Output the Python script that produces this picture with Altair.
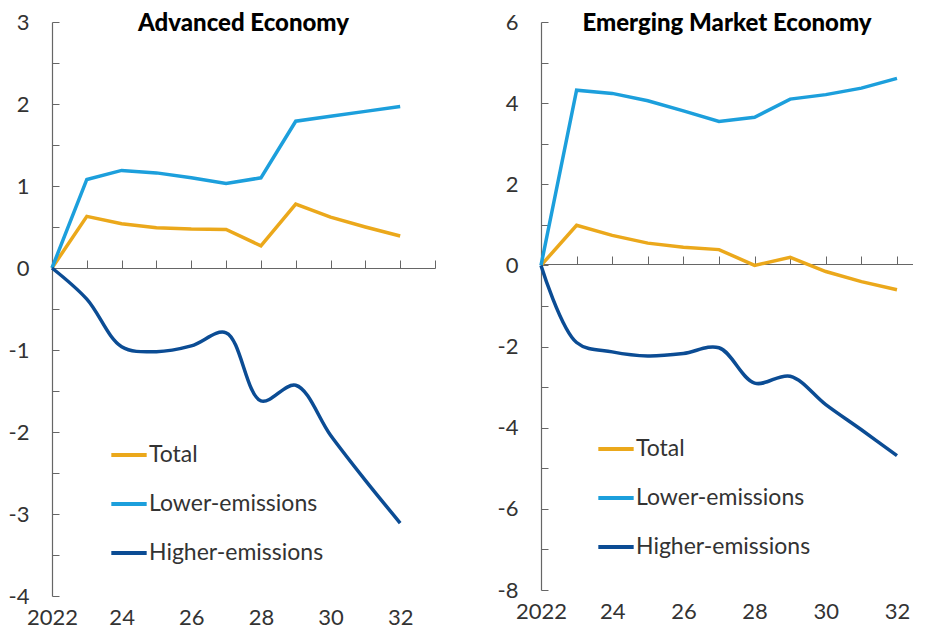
import altair as alt
import pandas as pd

years = list(range(2022, 2033))
series_names = ["Total", "Lower-emissions", "Higher-emissions"]
colors = ["#EBA81B", "#1C9FDC", "#0B4C94"]

adv_total = [0, 0.63, 0.54, 0.49, 0.475, 0.47, 0.27, 0.78, 0.62, 0.50, 0.39]
adv_lower = [0, 1.08, 1.19, 1.16, 1.10, 1.03, 1.10, 1.79, 1.85, 1.91, 1.97]
adv_higher = [0, -0.38, -0.96, -1.02, -0.95, -0.79, -1.62, -1.43, -2.04, -2.59, -3.11]

eme_total = [0, 0.99, 0.74, 0.55, 0.45, 0.39, 0.0, 0.20, -0.15, -0.40, -0.60]
eme_lower = [0, 4.32, 4.24, 4.06, 3.81, 3.55, 3.65, 4.10, 4.21, 4.37, 4.61]
eme_higher = [0, -1.90, -2.13, -2.23, -2.17, -2.03, -2.90, -2.73, -3.43, -4.05, -4.69]

adv_yticks = [3, 2, 1, 0, -1, -2, -3, -4]
adv_minor = [3 - 0.5 * i for i in range(15)]
eme_yticks = [6, 4, 2, 0, -2, -4, -6, -8]
eme_minor = [6 - i for i in range(15)]
x_label_years = [2022, 2024, 2026, 2028, 2030, 2032]

FONT = "Lato"
TEXT = "#333333"
AXIS = "#666666"


def make_df(total, lower, higher):
    rows = []
    for name, vals in zip(series_names, [total, lower, higher]):
        for yr, v in zip(years, vals):
            rows.append({"year": yr, "value": v, "series": name})
    return pd.DataFrame(rows)


def panel(df, title, ydom, yticks, minor, xmax, width, height, zero_px, title_offset, legend_x):
    color = alt.Color(
        "series:N",
        scale=alt.Scale(domain=series_names, range=colors),
        legend=alt.Legend(
            title=None,
            orient="none",
            legendX=legend_x,
            legendY=height - 161,
            symbolType="stroke",
            symbolSize=1250,
            symbolStrokeWidth=4,
            labelFont=FONT,
            labelFontSize=23,
            labelColor=TEXT,
            labelOffset=0,
            labelLimit=400,
            rowPadding=17,
        ),
    )
    xscale = alt.Scale(domain=[2022, xmax], nice=False, zero=False)
    yscale = alt.Scale(domain=ydom, nice=False, zero=False)

    base = alt.Chart(df)
    linear = base.transform_filter(alt.datum.series != "Higher-emissions").mark_line(
        strokeWidth=3.5
    ).encode(
        x=alt.X(
            "year:Q",
            scale=xscale,
            axis=alt.Axis(
                orient="bottom",
                values=x_label_years,
                labelExpr="datum.value == 2022 ? '2022' : '' + (datum.value - 2000)",
                domain=False,
                ticks=False,
                tickSize=0,
                grid=False,
                labelFlush=False,
                labelFont=FONT,
                labelFontSize=22,
                labelColor=TEXT,
                labelPadding=11,
                title=None,
            ),
        ),
        y=alt.Y(
            "value:Q",
            scale=yscale,
            axis=alt.Axis(
                orient="left",
                values=yticks,
                labelExpr="datum.value < 0 ? '-' + abs(datum.value) : '' + datum.value",
                domain=False,
                ticks=False,
                tickSize=0,
                grid=False,
                labelFont=FONT,
                labelFontSize=22,
                labelColor=TEXT,
                labelPadding=23,
                minExtent=44,
                maxExtent=44,
                title=None,
            ),
        ),
        color=color,
    )
    smooth = base.transform_filter(alt.datum.series == "Higher-emissions").mark_line(
        strokeWidth=3.5, interpolate="catmull-rom"
    ).encode(
        x=alt.X(
            "year:Q",
            scale=xscale,
            axis=alt.Axis(
                orient="top",
                offset=-zero_px,
                values=list(range(2023, int(xmax) + 1)),
                labels=False,
                ticks=True,
                tickSize=8,
                tickColor=AXIS,
                domainColor=AXIS,
                domainWidth=1.2,
                grid=False,
                title=None,
            ),
        ),
        y=alt.Y(
            "value:Q",
            scale=yscale,
            axis=alt.Axis(
                orient="right",
                offset=-width,
                values=minor,
                labels=False,
                ticks=True,
                tickSize=7,
                tickColor=AXIS,
                domainColor=AXIS,
                domainWidth=1.2,
                grid=False,
                title=None,
            ),
        ),
        color=color,
    )
    return alt.layer(linear, smooth).resolve_axis(x="independent", y="independent").properties(
        width=width,
        height=height,
        title=alt.TitleParams(
            title,
            font=FONT,
            fontSize=24,
            fontWeight=900,
            color="#000000",
            anchor="middle",
            frame="group",
            offset=title_offset,
        ),
    )


adv = make_df(adv_total, adv_lower, adv_higher)
eme = make_df(eme_total, eme_lower, eme_higher)

left = panel(adv, "Advanced Economy", [-4, 3], adv_yticks, adv_minor, 2033, 383, 574, 246, -25, 57)
right = panel(eme, "Emerging Market Economy", [-8, 6], eme_yticks, eme_minor, 2032.45, 372, 568, 242, -25, 55)

chart = alt.hconcat(left, right, spacing=61).resolve_scale(color="shared").resolve_legend(
    color="independent"
).properties(padding={"left": 0, "top": 3, "right": 0, "bottom": 0}).configure_view(stroke=None)

chart.save("out.html", embed_options={"renderer": "svg", "actions": False})
